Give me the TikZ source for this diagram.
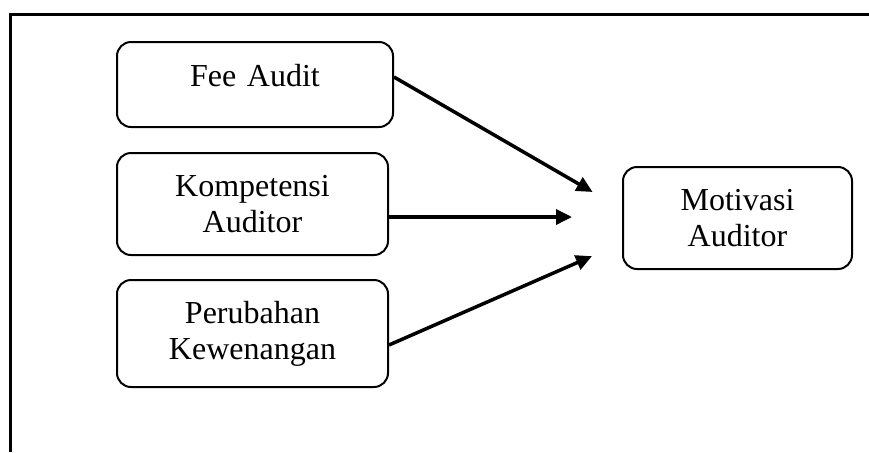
\documentclass[tikz,border=0pt]{standalone}
\usepackage{fontspec}
\setmainfont{Liberation Serif}
\usetikzlibrary{arrows.meta}

\begin{document}
\begin{tikzpicture}[x=0.5pt,y=-0.5pt,>={Triangle[length=8pt,width=7.5pt]}]
    \tikzset{block/.style= {draw, rectangle
    , rounded corners=7pt
    , line width=1pt
    , inner sep=0pt
    , text width=110pt
    , align=center
    , font=\fontsize{16}{18}\selectfont
      }
    , link/.style= {->, line width=1.75pt}
    }

\useasboundingbox (0,0) rectangle (869,452);
\draw [line width=1.5pt] (10,452) -- (10,14) -- (869,14);

\node [block, minimum width=138pt, minimum height=42.5pt, text depth=9.5pt] (fee) at (255,84.5) {Fee Audit};
\node [block, minimum width=135.5pt, minimum height=51pt] (komp) at (252.5,204) {Kompetensi \\Auditor};
\node [block, minimum width=135.5pt, minimum height=53.5pt] (perub) at (252.5,333.5) {Perubahan \\Kewenangan};
\node [block, minimum width=114.5pt, minimum height=51pt] (motiv) at (737.5,218) {Motivasi \\Auditor};

 \draw[link, shorten >=17pt] ([yshift=3.75pt]fee.east) -- ([yshift=4.5pt]motiv.west);
 \draw[link, shorten >=25pt] ([yshift=-6.5pt]komp.east) -- ([yshift=0.5pt]motiv.west);
 \draw[link, shorten >=16.4pt] ([yshift=-5.75pt]perub.east) -- ([yshift=-12.5pt]motiv.west);
\end{tikzpicture}
\end{document}
